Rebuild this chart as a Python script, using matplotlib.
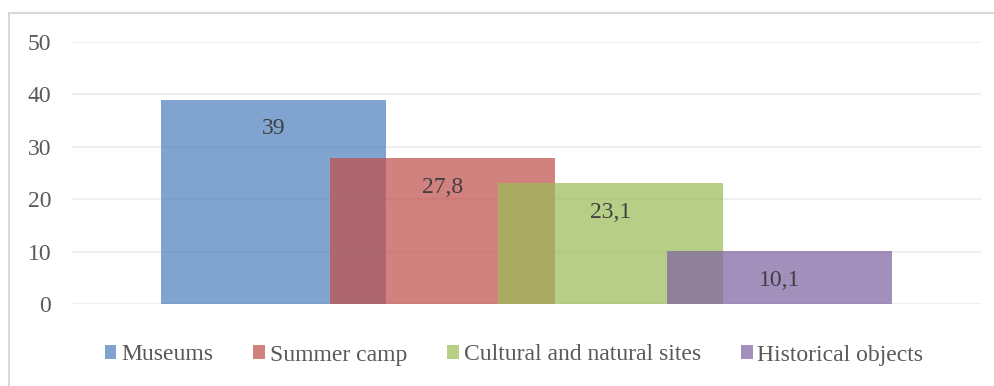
import matplotlib.pyplot as plt
from matplotlib.patches import Patch, Rectangle

plt.rcParams["font.family"] = ["Liberation Serif", "DejaVu Serif"]

# Data
series = ["Museums", "Summer camp", "Cultural and natural sites", "Historical objects"]
values = [39, 27.8, 23.1, 10.1]
colors = ["#4F81BD", "#C0504D", "#9BBB59", "#8064A2"]
yticks = [0, 10, 20, 30, 40, 50]

# Clustered bars with overlap, one category spanning [-0.5, 0.5]
bar_w = 0.2475
overlap = 0.25
step = bar_w * (1 - overlap)

W, H = 995, 386
fig = plt.figure(figsize=(W / 100, H / 100), dpi=100)
ax = fig.add_axes([72 / W, (H - 304) / H, (981 - 72) / W, (304 - 42) / H])

n = len(series)
for i, (name, v, c) in enumerate(zip(series, values, colors)):
    x = (i - (n - 1) / 2) * step
    ax.bar(x, v, width=bar_w, color=c, alpha=0.72, linewidth=0, zorder=2 + i)
    ax.annotate(f"{v:g}".replace(".", ","), (x, v), xytext=(0, -21),
                textcoords="offset points", ha="center", va="center",
                fontsize=17, color="#404040", zorder=10)

ax.set_xlim(-0.5, 0.5)
ax.set_ylim(0, 50)
ax.set_yticks(yticks)
ax.set_xticks([])
ax.tick_params(axis="y", length=0, pad=15, labelsize=17, labelcolor="#595959")
for s in ax.spines.values():
    s.set_visible(False)
ax.grid(axis="y", color="#EFEFEF", lw=1.5, zorder=0)
ax.set_axisbelow(True)

handles = [Patch(facecolor=c, alpha=0.72, edgecolor="none", label=s)
           for s, c in zip(series, colors)]
fig.legend(handles=handles, loc="center", bbox_to_anchor=(514 / W, (H - 355) / H),
           ncol=4, frameon=False, fontsize=17, handlelength=0.5, handleheight=0.5,
           handletextpad=0.2, columnspacing=1.7, labelcolor="#595959")

# Chart frame
fig.patches.append(Rectangle((9 / W, -0.1), 1.2, (H - 13) / H + 0.1,
                             transform=fig.transFigure, fill=False,
                             edgecolor="#D9D9D9", lw=1.5))

fig.savefig("out.png", dpi=100)
